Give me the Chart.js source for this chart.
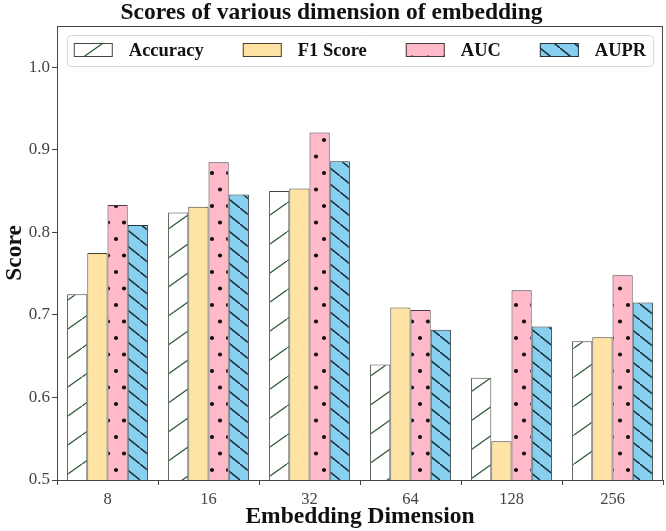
<!DOCTYPE html>
<html>
<head>
<meta charset="utf-8">
<script src="https://cdn.jsdelivr.net/npm/chart.js@4/dist/chart.umd.min.js"></script>
<style>
  html, body { margin: 0; padding: 0; background: #fff; }
  #wrap { width: 666px; height: 531px; }
</style>
</head>
<body>
<div id="wrap"><canvas id="scoreChart" width="666" height="531"></canvas></div>
<script>
// data
const dims = ['8', '16', '32', '64', '128', '256'];
const accuracy = [0.725, 0.824, 0.850, 0.640, 0.624, 0.668];
const f1Score  = [0.775, 0.831, 0.853, 0.709, 0.547, 0.673];
const auc      = [0.833, 0.885, 0.921, 0.706, 0.730, 0.748];
const aupr     = [0.809, 0.846, 0.886, 0.682, 0.686, 0.715];
const yTicks   = [0.5, 0.6, 0.7, 0.8, 0.9, 1.0];

const SERIF = '"Liberation Serif", "Times New Roman", serif';

// small canvas tiles used as hatch patterns
function makeTile(w, h, paint) {
    const c = document.createElement('canvas');
    c.width = w; c.height = h;
    const g = c.getContext('2d');
    paint(g, w, h);
    return document.getElementById('scoreChart').getContext('2d').createPattern(c, 'repeat');
}

const accHatch = makeTile(41, 29, (g, w, h) => {
    g.fillStyle = '#ffffff';
    g.fillRect(0, 0, w, h);
    g.strokeStyle = '#2e5a34';
    g.lineWidth = 1.3;
    g.beginPath();
    g.moveTo(-w, 2 * h); g.lineTo(2 * w, -h);
    g.stroke();
});

const aucDots = makeTile(16, 33, (g, w, h) => {
    g.fillStyle = '#ffb9c9';
    g.fillRect(0, 0, w, h);
    g.fillStyle = '#111';
    [[4, 8], [12, 24.5]].forEach(p => {
        g.beginPath();
        g.arc(p[0], p[1], 2.1, 0, Math.PI * 2);
        g.fill();
    });
});

const auprHatch = makeTile(20, 16, (g, w, h) => {
    g.fillStyle = '#86cfee';
    g.fillRect(0, 0, w, h);
    g.strokeStyle = '#1b2633';
    g.lineWidth = 1.4;
    g.beginPath();
    g.moveTo(-w, -h); g.lineTo(2 * w, 2 * h);
    g.stroke();
});

// axes frame (top/right spines) + legend box inside the plot
const framePlugin = {
    id: 'framePlugin',
    afterDatasetsDraw(chart) {
        const { ctx, chartArea: a } = chart;
        ctx.save();
        ctx.strokeStyle = '#444';
        ctx.lineWidth = 1;
        ctx.strokeRect(a.left + 0.5, a.top + 0.5, a.right - a.left - 1, a.bottom - a.top);

        // legend
        ctx.font = 'bold 18.5px ' + SERIF;
        const boxW = 39, boxH = 14, gap = 16, space = 39, pad = 7;
        const items = chart.data.datasets.map(d => ({ text: d.label, fill: d.backgroundColor, edge: d.borderColor }));
        let total = 0;
        items.forEach((it, i) => {
            it.w = ctx.measureText(it.text).width;
            total += boxW + gap + it.w + (i ? space : 0);
        });
        let x = (a.left + a.right) / 2 - total / 2;
        const cy = a.top + 24;

        ctx.beginPath();
        ctx.roundRect(x - pad + 0.5, a.top + 9.5, total + pad * 2, 31, 4);
        ctx.fillStyle = 'rgba(255,255,255,0.85)';
        ctx.fill();
        ctx.strokeStyle = '#d6d6d6';
        ctx.stroke();

        ctx.textBaseline = 'middle';
        items.forEach(it => {
            ctx.fillStyle = it.fill;
            ctx.fillRect(x, cy - boxH / 2, boxW, boxH);
            ctx.strokeStyle = it.edge;
            ctx.strokeRect(x + 0.5, cy - boxH / 2 + 0.5, boxW - 1, boxH - 1);
            ctx.fillStyle = '#111';
            ctx.fillText(it.text, x + boxW + gap, cy + 1);
            x += boxW + gap + it.w + space;
        });
        ctx.restore();
    }
};

new Chart(document.getElementById('scoreChart'), {
    type: 'bar',
    data: {
        labels: dims,
        datasets: [
            { label: 'Accuracy', data: accuracy, backgroundColor: accHatch, borderColor: '#3d4a3d' },
            { label: 'F1 Score', data: f1Score, backgroundColor: '#ffe3a4', borderColor: '#4a4030' },
            { label: 'AUC', data: auc, backgroundColor: aucDots, borderColor: '#4a3a3d' },
            { label: 'AUPR', data: aupr, backgroundColor: auprHatch, borderColor: '#26323d' }
        ]
    },
    options: {
        responsive: false,
        animation: false,
        layout: { padding: { left: 0, right: 3, top: 0, bottom: 0 } },
        datasets: {
            bar: { borderWidth: 1, categoryPercentage: 0.8, barPercentage: 1.0, borderSkipped: false }
        },
        plugins: {
            legend: { display: false },
            tooltip: { enabled: false },
            title: {
                display: true,
                text: 'Scores of various dimension of embedding',
                color: '#111',
                font: { family: SERIF, size: 23.5, weight: 'bold', lineHeight: 1.0 },
                padding: { top: 1, bottom: 1.5 }
            }
        },
        scales: {
            x: {
                grid: { display: true, drawOnChartArea: false, tickLength: 5, color: '#444' },
                border: { display: true, color: '#444' },
                ticks: { color: '#444', padding: 5, font: { family: SERIF, size: 16.5 } },
                title: {
                    display: true, text: 'Embedding Dimension', color: '#111',
                    font: { family: SERIF, size: 23.5, weight: 'bold', lineHeight: 1.1 },
                    padding: { top: 0, bottom: 1.5 }
                },
                afterFit(scale) { scale.height = 51; }
            },
            y: {
                min: 0.5,
                max: 1.05,
                grid: { display: true, drawOnChartArea: false, tickLength: 5, color: '#444' },
                border: { display: true, color: '#444' },
                afterBuildTicks(scale) { scale.ticks = yTicks.map(v => ({ value: v })); },
                ticks: {
                    color: '#444', padding: 2,
                    font: { family: SERIF, size: 17 },
                    callback: v => v.toFixed(1)
                },
                title: {
                    display: true, text: 'Score', color: '#111',
                    font: { family: SERIF, size: 23.5, weight: 'bold', lineHeight: 1.1 },
                    padding: { top: 2, bottom: 0 }
                },
                afterFit(scale) { scale.width = 57; }
            }
        }
    },
    plugins: [framePlugin]
});
</script>
</body>
</html>
